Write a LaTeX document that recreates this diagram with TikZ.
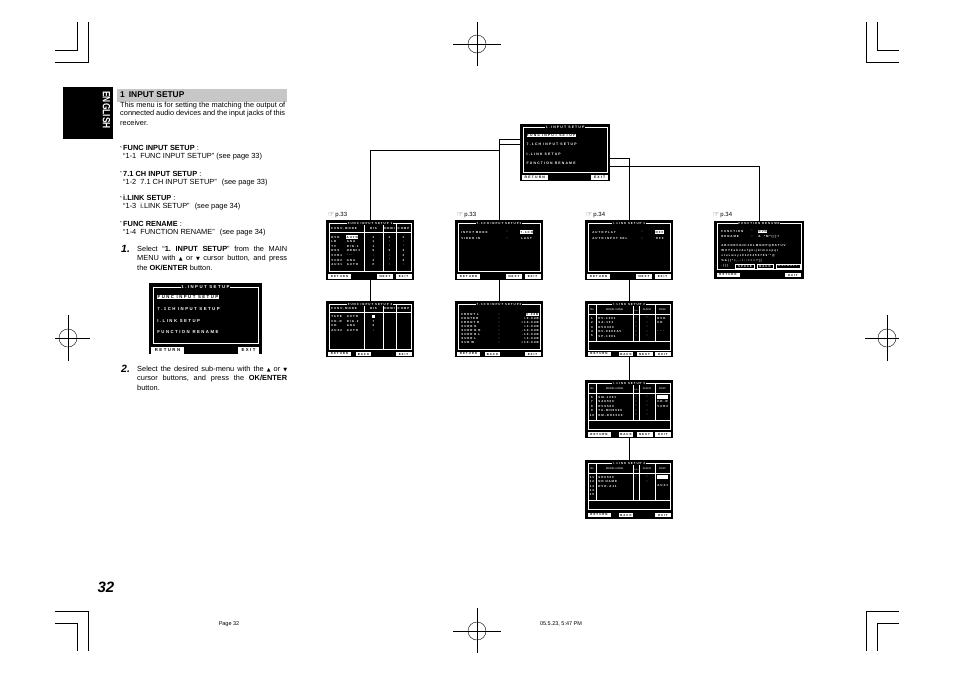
\documentclass[tikz,border=0pt]{standalone}
\usepackage{fontspec}
\setmainfont{Liberation Sans}
\newfontfamily\osd[LetterSpace=34]{Liberation Sans}
\newfontfamily\symf{DejaVu Sans}
\newcommand\of{\fontsize{2.9}{3.2}\osd\bfseries}
\newcommand\tri[1]{{\symf\fontsize{5}{5}\selectfont #1}}
\newcommand\bsz{\fontsize{7.4}{9}\selectfont\frenchspacing}
\newcommand\bul{\raisebox{1.5pt}{\fontsize{4.5}{4.5}\selectfont *}\,}
\tikzset{
  scr/.style={fill=black, anchor=north west, inner sep=0pt, outer sep=0pt},
  fr/.style={draw=white, line width=0.45pt},
  tx/.style={text=white, font=\of, inner sep=0.2pt, anchor=west},
  txc/.style={tx, anchor=center},
  txr/.style={tx, anchor=east},
  hl/.style={fill=white, text=black, font=\of, inner sep=0.5pt, anchor=west},
  hlr/.style={hl, anchor=east},
  ttl/.style={fill=black, text=white, font=\of, inner sep=0.8pt},
  btn/.style={fill=white, text=black, font=\of, inner sep=0pt, minimum height=4.4pt},
  obtn/.style={draw=white, line width=0.4pt, text=white, font=\of, inner sep=0pt, minimum height=4.4pt},
  hdr/.style={text=white, inner sep=0.2pt, font=\fontsize{2.6}{3}\selectfont},
  conn/.style={line width=0.7pt},
  crop/.style={line width=0.4pt},
  body/.style={font=\bsz, anchor=west, inner sep=0pt},
  reg/.style={circle, draw, line width=0.4pt, minimum size=18pt, inner sep=0pt},
}
\newcommand\inputmenu[1]{%
  \draw[fr] (4,4) rectangle (109,60);
  \node[ttl] (#1t) at (56.5,4) {1.INPUT SETUP};
  \node[hl] (#1a) at (8,14) {FUNC INPUT SETUP};
  \node[tx] (#1b) at (8,26) {7.1CH INPUT SETUP};
  \node[tx] (#1c) at (8,38) {I.LINK SETUP};
  \node[tx] (#1d) at (8,49) {FUNCTION RENAME};
  \node[btn, minimum width=33pt, minimum height=7pt] (#1r) at (18.5,67) {RETURN};
  \node[btn, minimum width=21pt, minimum height=7pt] (#1e) at (99.5,67) {EXIT};
}
\newcommand\linktab[2]{%
  \draw[fr] (3,3) rectangle (85,49);
  \draw[fr] (3,13)--(85,13) (3,40)--(85,40) (11,3)--(11,40) (48,3)--(48,40) (54,3)--(54,40) (70,3)--(70,40);
  \node[ttl] (#1ti) at (44,3) {#2};
  \node[hdr] (#1h1) at (7,9) {No};
  \node[hdr] (#1h2) at (29.5,9) {MODEL NAME};
  \node[hdr, font=\fontsize{1.9}{2}\selectfont] (#1h3) at (51,9.5) {Lnk};
  \node[hdr] (#1h4) at (62,9) {AUDIO};
  \node[hdr] (#1h5) at (77.5,9) {FUNC};
}
\begin{document}
\begin{tikzpicture}[x=1pt,y=-1pt]
\useasboundingbox (0,0) rectangle (954,673);
\fill[white] (0,0) rectangle (954,673);

% crop marks
\draw[crop] (55,62)--(88,62)--(88,22) (55,50)--(77,50)--(77,22);
\draw[crop] (899,62)--(866,62)--(866,22) (899,50)--(877,50)--(877,22);
\draw[crop] (55,611)--(88,611)--(88,651) (55,623)--(77,623)--(77,651);
\draw[crop] (899,611)--(866,611)--(866,651) (899,623)--(877,623)--(877,651);

% registration marks
\node[reg] (rg1) at (477,44) {};
\draw[crop] (453,44)--(501,44) (477,22)--(477,66);
\node[reg] (rg2) at (68,338) {};
\draw[crop] (55,338)--(90,338) (68,315)--(68,361);
\node[reg] (rg3) at (887,338) {};
\draw[crop] (865,338)--(899,338) (887,315)--(887,361);
\node[reg] (rg4) at (477,631) {};
\draw[crop] (453,631)--(501,631) (477,608)--(477,653);

% left column
\node[scr, minimum width=50pt, minimum height=52pt] (eng) at (63,87) {};
\node[rotate=-90, text=white, font=\fontsize{10.5}{11}\selectfont\bfseries, inner sep=0pt] (engt) at (106.5,110) {\scalebox{0.8}[1]{ENGLISH}};
\node[fill=black!22, anchor=north west, minimum width=170pt, minimum height=13pt, inner sep=0pt] (bar) at (117,88.5) {};
\node[body, font=\fontsize{8.4}{9}\selectfont\bfseries] (head) at (120,95) {1\hspace{4pt}INPUT SETUP};
\node[body] (p1) at (120,105.5) {\makebox[165pt][s]{This menu is for setting the matching the output of}};
\node[body] (p2) at (120,114) {\makebox[165pt][s]{connected audio devices and the input jacks of this}};
\node[body] (p3) at (120,122.5) {receiver.};

\node[body] (b1) at (120,148) {\bul\textbf{FUNC INPUT SETUP} :};
\node[body] (b2) at (123,157) {“1-1\hspace{4pt}FUNC INPUT SETUP” (see page 33)};
\node[body] (b3) at (120,173.5) {\bul\textbf{7.1 CH INPUT SETUP} :};
\node[body] (b4) at (123,182.5) {“1-2\hspace{4pt}7.1 CH INPUT SETUP”\hspace{3pt} (see page 33)};
\node[body] (b5) at (120,198) {\bul\textbf{i.LINK SETUP} :};
\node[body] (b6) at (123,207) {“1-3\hspace{4pt}i.LINK SETUP”\hspace{3pt} (see page 34)};
\node[body] (b7) at (120,223.5) {\bul\textbf{FUNC RENAME} :};
\node[body] (b8) at (123,232.5) {“1-4\hspace{4pt}FUNCTION RENAME”\hspace{3pt} (see page 34)};

\node[body, font=\fontsize{10.5}{12}\selectfont\bfseries\itshape] (n1) at (121,248.5) {1.};
\node[body] (s1a) at (137,249) {\makebox[150pt][s]{Select “\textbf{1. INPUT SETUP}” from the MAIN}};
\node[body] (s1b) at (137,258.5) {\makebox[150pt][s]{MENU with \tri{▲} or \tri{▼} cursor button, and press}};
\node[body] (s1c) at (137,268) {the \textbf{OK/ENTER} button.};

\node[body, font=\fontsize{10.5}{12}\selectfont\bfseries\itshape] (n2) at (121,368.5) {2.};
\node[body] (s2a) at (137,369) {\makebox[150pt][s]{Select the desired sub-menu with the \tri{▲} or \tri{▼}}};
\node[body] (s2b) at (137,378.5) {\makebox[150pt][s]{cursor buttons, and press the \textbf{OK/ENTER}}};
\node[body] (s2c) at (137,388) {button.};

% left screen
\node[scr, minimum width=113pt, minimum height=71pt] (lscr) at (149,283) {};
\begin{scope}[shift={(149,283)}]
\renewcommand\of{\fontsize{4.3}{5}\osd\bfseries}
\inputmenu{la}
\end{scope}

% top screen
\begin{scope}[shift={(520,124)}, scale=0.8, transform shape]
\renewcommand\of{\fontsize{4.3}{5}\osd\bfseries}
\node[scr, minimum width=113pt, minimum height=71pt] (top) at (0,0) {};
\inputmenu{ta}
\end{scope}

% page references
\node[body, font=\fontsize{6}{7}\selectfont] (ref1) at (328,215) {{\symf\color{black!70}\fontsize{7}{7}\selectfont ☞}\,p.33};
\node[body, font=\fontsize{6}{7}\selectfont] (ref2) at (457,215) {{\symf\color{black!70}\fontsize{7}{7}\selectfont ☞}\,p.33};
\node[body, font=\fontsize{6}{7}\selectfont] (ref3) at (586,215) {{\symf\color{black!70}\fontsize{7}{7}\selectfont ☞}\,p.34};
\node[body, font=\fontsize{6}{7}\selectfont] (ref4) at (713,215) {{\symf\color{black!70}\fontsize{7}{7}\selectfont ☞}\,p.34};

% ---- FUNC INPUT SETUP 1
\node[scr, minimum width=88pt, minimum height=60pt] (s1) at (326,220) {};
\begin{scope}[shift={(326,220)}]
\draw[fr] (3,3.5) rectangle (85,51);
\draw[fr] (3,12)--(85,12) (38,3.5)--(38,51) (57,3.5)--(57,51) (70,3.5)--(70,51);
\node[ttl] (s1ti) at (44,3.5) {FUNC INPUT SETUP 1};
\node[tx] (s1ha) at (5,8.2) {FUNC.MODE};
\node[txc] (s1hb) at (47.5,8.2) {DIS};
\node[txc] (s1hc) at (63.5,8.2) {HDMI};
\node[txc] (s1hd) at (77.5,8.2) {COMP};
\node[tx] (s1n1) at (5,17) {DVD};
\node[hl] (s1m1) at (20,17) {AUTO};
\node[txc] (s1a1) at (47.5,17) {3};
\node[txc] (s1b1) at (63.5,17) {1};
\node[txc] (s1c1) at (77.5,17) {1};
\foreach \vn/\vm/\va/\vb/\vc [count=\i from 2] in {LD/ANA/1/:/:, TV/DIG.1/1/:/:, DSS/HDMI3/6/3/3, VCR1/-.-/:/:/3, VCR2/ANA/4/:/4, AUX1/AUTO/F/:/:}{
  \node[tx] (s1n\i) at (5,{12.4+4.6*\i}) {\vn};
  \node[tx] (s1m\i) at (20.5,{12.4+4.6*\i}) {\vm};
  \node[txc] (s1a\i) at (47.5,{12.4+4.6*\i}) {\va};
  \node[txc] (s1b\i) at (63.5,{12.4+4.6*\i}) {\vb};
  \node[txc] (s1c\i) at (77.5,{12.4+4.6*\i}) {\vc};
}
\node[btn, minimum width=23pt] (s1r) at (13.5,56.5) {RETURN};
\node[btn, minimum width=16pt] (s1x) at (59,56.5) {NEXT};
\node[btn, minimum width=16pt] (s1e) at (77.5,56.5) {EXIT};
\end{scope}

% ---- FUNC INPUT SETUP 2
\node[scr, minimum width=88pt, minimum height=56pt] (s5) at (326,301) {};
\begin{scope}[shift={(326,301)}]
\draw[fr] (3,3) rectangle (85,48.5);
\draw[fr] (3,11.5)--(85,11.5) (38,3)--(38,48.5) (57,3)--(57,48.5) (70,3)--(70,48.5);
\node[ttl] (s5ti) at (44,3) {FUNC INPUT SETUP 2};
\node[tx] (s5ha) at (5,7.6) {FUNC.MODE};
\node[txc] (s5hb) at (47.5,7.6) {DIS};
\node[txc] (s5hc) at (63.5,7.6) {HDMI};
\node[txc] (s5hd) at (77.5,7.6) {COMP};
\fill[white] (45.8,14) rectangle (49.2,17.4);
\foreach \vn/\vm/\va [count=\i] in {TAPE/AUTO/, CD-R/DIG.2/7, CD/ANA/6, AUX2/AUTO/:}{
  \node[tx] (s5n\i) at (5,{11+4.6*\i}) {\vn};
  \node[tx] (s5m\i) at (20.5,{11+4.6*\i}) {\vm};
  \node[txc] (s5a\i) at (47.5,{11+4.6*\i}) {\va};
}
\node[btn, minimum width=23pt] (s5r) at (13.5,53) {RETURN};
\node[btn, minimum width=15pt] (s5k) at (37.5,53) {BACK};
\node[btn, minimum width=16pt] (s5e) at (77.5,53) {EXIT};
\end{scope}

% ---- 7.1CH INPUT SETUP 1
\node[scr, minimum width=88pt, minimum height=60pt] (s2) at (455,220) {};
\begin{scope}[shift={(455,220)}]
\draw[fr] (3,3.5) rectangle (85,51);
\node[ttl] (s2ti) at (44,3.5) {7.1CH INPUT SETUP1};
\node[tx] (s2a) at (6,12) {INPUT MODE};
\node[txc] (s2b) at (52,12) {:};
\node[hl] (s2c) at (65,12) {7.1CH};
\node[tx] (s2d) at (6,18.5) {VIDEO IN};
\node[txc] (s2e) at (52,18.5) {:};
\node[tx] (s2f) at (66,18.5) {LAST};
\node[btn, minimum width=23pt] (s2r) at (13.5,56.5) {RETURN};
\node[btn, minimum width=16pt] (s2x) at (59,56.5) {NEXT};
\node[btn, minimum width=16pt] (s2q) at (77.5,56.5) {EXIT};
\end{scope}

% ---- 7.1CH INPUT SETUP 2
\node[scr, minimum width=88pt, minimum height=56pt] (s6) at (455,301) {};
\begin{scope}[shift={(455,301)}]
\draw[fr] (3,3) rectangle (85,48.5);
\node[ttl] (s6ti) at (44,3) {7.1CH INPUT SETUP2};
\node[tx] (s6l0) at (6,13.5) {FRONT L};
\node[txc] (s6c0) at (44,13.5) {:};
\node[hlr] (s6v0) at (84,13.5) {0.0dB};
\foreach \vl/\vv [count=\i] in {CENTER/+0.0dB, FRONT R/+10.0dB, SURR R/+4.0dB, SURR B R/-10.0dB, SURR B L/-10.0dB, SURR L/+4.0dB, SUB W/+10.0dB}{
  \node[tx] (s6l\i) at (6,{13.5+4*\i}) {\vl};
  \node[txc] (s6c\i) at (44,{13.5+4*\i}) {:};
  \node[txr] (s6v\i) at (84,{13.5+4*\i}) {\vv};
}
\node[btn, minimum width=23pt] (s6r) at (13.5,53) {RETURN};
\node[btn, minimum width=15pt] (s6k) at (37.5,53) {BACK};
\node[btn, minimum width=16pt] (s6e) at (77.5,53) {EXIT};
\end{scope}

% ---- I.LINK SETUP 1
\node[scr, minimum width=88pt, minimum height=60pt] (s3) at (585,220) {};
\begin{scope}[shift={(585,220)}]
\draw[fr] (3,3.5) rectangle (85,51);
\node[ttl] (s3ti) at (44,3.5) {I.LINK SETUP 1};
\node[tx] (s3a) at (7,12) {AUTO PLAY};
\node[txc] (s3b) at (57,12) {:};
\node[hl] (s3c) at (70,12) {OFF};
\node[tx] (s3d) at (7,18.5) {AUTO INPUT SEL};
\node[txc] (s3e) at (57,18.5) {:};
\node[tx] (s3f) at (70.5,18.5) {OFF};
\node[btn, minimum width=23pt] (s3r) at (13.5,56.5) {RETURN};
\node[btn, minimum width=16pt] (s3x) at (59,56.5) {NEXT};
\node[btn, minimum width=16pt] (s3q) at (77.5,56.5) {EXIT};
\end{scope}

% ---- I.LINK SETUP 2
\node[scr, minimum width=88pt, minimum height=56pt] (s7) at (585,301) {};
\begin{scope}[shift={(585,301)}]
\linktab{s7}{I.LINK SETUP 2}
\foreach \vk/\vn/\vf [count=\i] in {1/DV-1001/DVD, 2/SA-101/CD, 3/DV8300/, 4/DV-8600AV/- - -, 5/SP-1001/}{
  \node[txc] (s7k\i) at (7,{12.5+4.5*\i}) {\vk};
  \node[tx] (s7n\i) at (13,{12.5+4.5*\i}) {\vn};
  \node[txc] (s7l\i) at (51,{12.5+4.5*\i}) {:};
  \node[txc] (s7a\i) at (62,{12.5+4.5*\i}) {:};
  \node[tx] (s7f\i) at (72,{12.5+4.5*\i}) {\vf};
}
\node[btn, minimum width=23pt] (s7r) at (14,53) {RETURN};
\node[btn, minimum width=14pt] (s7k) at (41,53) {BACK};
\node[btn, minimum width=16pt] (s7x) at (59.5,53) {NEXT};
\node[btn, minimum width=16pt] (s7e) at (78,53) {EXIT};
\end{scope}

% ---- I.LINK SETUP 3
\node[scr, minimum width=88pt, minimum height=58pt] (s8) at (585,380) {};
\begin{scope}[shift={(585,380)}]
\linktab{s8}{I.LINK SETUP 3}
\fill[white] (71.5,15.3) rectangle (82.5,18.8);
\foreach \vk/\vn/\vf [count=\i] in {6/SM-1001/, 7/SA8500/CD-R, 8/DV9500/VCR2, 9/TU-MH8500/, 10/RM-DH3500/}{
  \node[txc] (s8k\i) at (7,{12.5+4.5*\i}) {\vk};
  \node[tx] (s8n\i) at (13,{12.5+4.5*\i}) {\vn};
  \node[txc] (s8l\i) at (51,{12.5+4.5*\i}) {:};
  \node[txc] (s8a\i) at (62,{12.5+4.5*\i}) {:};
  \node[tx] (s8f\i) at (72,{12.5+4.5*\i}) {\vf};
}
\node[btn, minimum width=23pt] (s8r) at (14,54.5) {RETURN};
\node[btn, minimum width=14pt] (s8k) at (41,54.5) {BACK};
\node[btn, minimum width=16pt] (s8x) at (59.5,54.5) {NEXT};
\node[btn, minimum width=16pt] (s8e) at (78,54.5) {EXIT};
\end{scope}

% ---- I.LINK SETUP 4
\node[scr, minimum width=88pt, minimum height=59pt] (s9) at (585,460) {};
\begin{scope}[shift={(585,460)}]
\linktab{s9}{I.LINK SETUP 4}
\fill[white] (71.5,15.3) rectangle (82.5,18.8);
\foreach \vk/\vn/\vf [count=\i] in {11/SR8500/, 12/NO NAME/, 13/DVD-A11/AUX1, 14//, 15//}{
  \node[txc] (s9k\i) at (7,{12.5+4.5*\i}) {\vk};
  \node[tx] (s9n\i) at (13,{12.5+4.5*\i}) {\vn};
  \node[tx] (s9f\i) at (72,{12.5+4.5*\i}) {\vf};
}
\node[txc] (s9l1) at (51,17) {:};
\node[txc] (s9a1) at (62,17) {:};
\node[txc] (s9a2) at (62,21.5) {:};
\node[btn, minimum width=23pt] (s9r) at (14,55) {RETURN};
\node[btn, minimum width=14pt] (s9k) at (41,55) {BACK};
\node[btn, minimum width=16pt] (s9e) at (78,55) {EXIT};
\end{scope}

% ---- FUNCTION RENAME
\node[scr, minimum width=90pt, minimum height=58pt] (s4) at (714,221) {};
\begin{scope}[shift={(714,221)}]
\draw[fr] (3,2.5) rectangle (87,48.5);
\node[ttl] (s4ti) at (45,2.5) {FUNCTION RENAME};
\node[tx] (s4a) at (7,10) {FUNCTION};
\node[txc] (s4b) at (38,10) {:};
\node[hl] (s4c) at (44,10) {DVD};
\node[tx] (s4d) at (7,15.5) {RENAME};
\node[txc] (s4e) at (38,15.5) {:};
\node[tx] (s4f) at (44,15.5) {A\ \ *M*(|]?};
\node[tx] (s4g1) at (7,25) {ABCDEFGHIJKLMNOPQRSTUV};
\node[tx] (s4g2) at (7,30) {WXYZabcdefghijklmnopqr};
\node[tx] (s4g3) at (7,35) {stuvwxyz0123456789'"@};
\node[tx] (s4g4) at (7,40) {\%\&()*+,-./:;<=>?[]};
\node[tx] (s4g5) at (7,45) {-(])};
\node[obtn, minimum width=19pt] (s4bs) at (31,45) {SPACE};
\node[obtn, minimum width=16pt] (s4bb) at (51,45) {BACK};
\node[obtn, minimum width=24pt] (s4bd) at (74,45) {DEFAULT};
\node[btn, minimum width=23pt] (s4r) at (14,54) {RETURN};
\node[btn, minimum width=16pt] (s4q) at (79,54) {EXIT};
\end{scope}

% connectors
\coordinate (c1) at (520,139);
\coordinate (c2) at (520,144);
\coordinate (c3) at (610.4,158);
\coordinate (c4) at (610.4,166);
\coordinate (j1) at (499,150);
\draw[conn] (c1) -| (j1) -| (s1.north);
\draw[conn] (c2) -| (s2.north);
\draw[conn] (c3) -| (s3.north);
\draw[conn] (c4) -| (s4.north);
\draw[conn] (s1.south)--(s5.north) (s2.south)--(s6.north) (s3.south)--(s7.north) (s7.south)--(s8.north) (s8.south)--(s9.north);

% page number and footer
\node[font=\fontsize{15}{15}\selectfont\bfseries\itshape, inner sep=0pt] (pg) at (106,587) {32};
\node[font=\fontsize{5.5}{6}\selectfont, inner sep=0pt] (ft1) at (229,624) {Page 32};
\node[font=\fontsize{5.5}{6}\selectfont, inner sep=0pt] (ft2) at (561,624) {05.5.23, 5:47 PM};
\end{tikzpicture}
\end{document}
